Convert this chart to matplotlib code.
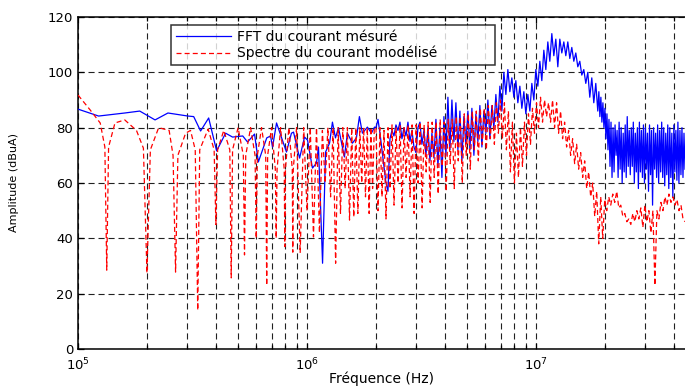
import numpy as np
import matplotlib
matplotlib.use("Agg")
import matplotlib.pyplot as plt
from matplotlib.ticker import NullFormatter, LogLocator

# ---------------- data ----------------
# Measured current FFT, sparse low-frequency part (Hz, dBuA)
blue_lf_freq = [1.00e5, 1.23e5, 1.60e5, 1.86e5, 2.17e5, 2.47e5, 3.02e5, 3.20e5,
                3.43e5, 3.72e5, 4.03e5, 4.41e5, 4.73e5, 5.24e5, 5.50e5, 5.90e5,
                6.13e5, 6.67e5, 6.93e5, 7.07e5, 7.36e5, 8.13e5, 8.55e5, 8.73e5,
                9.28e5, 9.75e5, 1.005e6, 1.056e6, 1.10e6, 1.122e6, 1.169e6, 1.205e6,
                1.254e6, 1.291e6, 1.331e6, 1.372e6, 1.456e6, 1.501e6, 1.578e6,
                1.643e6, 1.693e6, 1.745e6, 1.835e6, 1.91e6, 1.97e6]
blue_lf_val = [86.7, 84.2, 85.3, 86.0, 82.8, 85.3, 84.2, 84.0,
               78.8, 83.5, 71.6, 78.0, 76.6, 77.0, 74.8, 77.7,
               67.6, 76.3, 77.0, 73.0, 81.7, 71.2, 78.0, 78.4,
               69.0, 76.6, 75.5, 65.4, 67.2, 73.0, 31.0, 71.2,
               74.4, 82.0, 76.3, 80.0, 69.4, 78.0, 74.4,
               76.3, 84.0, 78.0, 80.2, 78.0, 80.2]

# Measured current FFT, dense part 2 MHz .. 18.6 MHz (log-spaced samples)
blue_mf_val = [80, 83, 78, 72, 66, 60, 57, 76, 79, 77,
               81, 79, 82, 76, 80, 77, 82, 75, 79, 73,
               71, 80, 82, 74, 79, 70, 80, 68, 78, 69,
               83, 66, 80, 62, 84, 70, 91, 72, 90, 75,
               89, 72, 86, 68, 84, 74, 86, 72, 87, 70,
               85, 75, 88, 73, 86, 78, 90, 76, 88, 80,
               92, 82, 95, 86, 100, 92, 101, 93, 98, 91,
               97, 89, 95, 87, 93, 85, 92, 86, 96, 90,
               101, 95, 104, 97, 108, 101, 111, 104, 114, 106,
               112, 102, 112, 107, 111, 106, 111, 105, 109, 104,
               107, 102, 104, 99, 101, 96, 100, 91, 98, 89,
               96, 86]

# Measured current FFT, very dense part 18.8 MHz .. right edge
blue_hf_val = [93, 84, 91, 82, 89, 80, 87, 76, 85, 72,
               83, 66, 82, 62, 80, 64, 81, 70, 79, 62,
               82, 65, 80, 60, 78, 64, 81, 62, 84, 66,
               79, 63, 80, 66, 82, 60, 78, 64, 80, 58,
               82, 64, 79, 62, 81, 60, 80, 65, 78, 57,
               81, 63, 79, 52, 80, 65, 78, 62, 81, 60,
               79, 64, 82, 62, 80, 59, 78, 63, 81, 58,
               80, 62, 78, 55, 81, 64, 79, 61, 82, 60,
               79, 63, 80, 62, 78, 65]

# Modelled current spectrum, low-frequency part with its notches
red_lf_freq = [1.00e5, 1.13e5, 1.25e5, 1.31e5, 1.335e5, 1.36e5, 1.45e5, 1.60e5,
               1.80e5, 1.93e5, 2.00e5, 2.07e5, 2.25e5, 2.50e5, 2.60e5, 2.667e5,
               2.73e5, 2.95e5, 3.10e5, 3.25e5, 3.333e5, 3.40e5, 3.70e5, 3.93e5,
               4.00e5, 4.07e5, 4.33e5, 4.60e5, 4.667e5, 4.73e5, 5.00e5, 5.27e5,
               5.333e5, 5.40e5, 5.67e5, 5.93e5, 6.00e5, 6.07e5, 6.33e5, 6.60e5,
               6.667e5, 6.73e5, 7.00e5, 7.27e5, 7.333e5, 7.40e5, 7.67e5, 7.95e5,
               8.00e5, 8.05e5, 8.33e5, 8.62e5, 8.667e5, 8.71e5, 9.00e5, 9.333e5,
               9.67e5, 1.00e6, 1.033e6, 1.067e6, 1.10e6, 1.133e6, 1.167e6, 1.20e6,
               1.233e6, 1.267e6, 1.30e6, 1.333e6, 1.367e6, 1.40e6, 1.433e6, 1.467e6,
               1.50e6, 1.533e6, 1.567e6, 1.60e6, 1.633e6, 1.667e6, 1.70e6, 1.733e6,
               1.767e6, 1.80e6, 1.833e6, 1.867e6, 1.90e6, 1.933e6, 1.967e6]
red_lf_val = [91.8, 86.4, 81.7, 73.0, 28.5, 73.0, 81.7, 82.8,
              79.0, 72.6, 27.5, 72.0, 80.0, 79.0, 70.0, 27.8,
              70.0, 78.0, 79.0, 72.0, 14.0, 72.0, 79.5, 72.0,
              45.0, 72.0, 79.0, 72.0, 25.7, 72.0, 80.0, 70.0,
              34.0, 70.0, 80.0, 70.0, 40.0, 70.0, 80.0, 70.0,
              23.0, 70.0, 80.0, 65.0, 40.0, 65.0, 80.0, 65.0,
              37.0, 65.0, 80.0, 65.0, 35.0, 65.0, 80.0, 34.7,
              80.0, 50.0, 80.0, 40.5, 80.0, 42.0, 79.0, 60.0,
              80.0, 55.0, 80.0, 31.0, 80.0, 49.0, 80.0, 58.0,
              80.0, 46.6, 80.0, 47.7, 80.0, 49.0, 80.0, 60.0,
              80.0, 55.0, 80.0, 49.0, 80.0, 58.0, 80.0]

# Modelled current spectrum, dense part from 2 MHz to the right edge
red_hf_val = [80, 50, 80, 55, 79, 47, 80, 58, 81, 52,
              80, 60, 81, 51, 80, 62, 81, 55, 81, 49,
              81, 60, 82, 51, 81, 64, 82, 53, 82, 62,
              82, 56, 83, 66, 82, 57, 83, 67, 83, 58,
              84, 68, 84, 60, 85, 70, 85, 65, 86, 72,
              86, 68, 87, 74, 87, 72, 88, 76, 88, 74,
              89, 78, 90, 76, 89, 72, 86, 64, 82, 60,
              78, 62, 80, 66, 82, 70, 85, 74, 87, 78,
              89, 80, 91, 82, 90, 84, 89, 82, 90, 80,
              89, 78, 86, 76, 82, 73, 79, 70, 76, 67,
              74, 65, 71, 62, 68, 58, 64, 55, 60, 48,
              57, 38, 55, 40, 54, 50, 55, 52, 56, 53,
              57, 51, 52, 48, 49, 46, 47, 45, 49, 46,
              50, 47, 51, 44, 52, 46, 50, 42, 50, 23,
              50, 47, 53, 50, 55, 52, 56, 53, 55, 52,
              54, 50, 52, 47, 46]

mf_start, mf_stop = 2.0e6, 1.86e7
hf_start, hf_stop = 1.88e7, 4.47e7
x_min, x_max = 1.0e5, 4.47e7
y_ticks = [0, 20, 40, 60, 80, 100, 120]
labels = ["FFT du courant mésuré", "Spectre du courant modélisé"]

# ---------------- figure ----------------
plt.rcParams['font.family'] = ['DejaVu Sans']
fig = plt.figure(figsize=(6.85, 3.87), dpi=100)
ax = fig.add_axes([78 / 685, 38 / 387, 607 / 685, 332 / 387])

blue_f = np.concatenate([blue_lf_freq,
                         np.geomspace(mf_start, mf_stop, len(blue_mf_val)),
                         np.geomspace(hf_start, hf_stop, len(blue_hf_val))])
blue_v = np.concatenate([blue_lf_val, blue_mf_val, blue_hf_val])
red_f = np.concatenate([red_lf_freq, np.geomspace(mf_start, x_max, len(red_hf_val))])
red_v = np.concatenate([red_lf_val, red_hf_val])

ax.plot(blue_f, blue_v, color='#0000ff', lw=0.9, label=labels[0], zorder=3)
ax.plot(red_f, red_v, color='#ff0000', lw=0.9, linestyle=(0, (4, 2.5)),
        label=labels[1], zorder=4)

ax.set_xscale('log')
ax.set_xlim(x_min, x_max)
ax.set_ylim(0, 120)
ax.set_yticks(y_ticks)
ax.xaxis.set_minor_locator(LogLocator(base=10, subs=np.arange(2, 10)))
ax.xaxis.set_minor_formatter(NullFormatter())

ax.set_axisbelow(True)
grid_kw = dict(color='#222222', lw=0.8, linestyle=(0, (5.5, 3.5)))
ax.grid(True, which='major', axis='both', **grid_kw)
ax.grid(True, which='minor', axis='x', **grid_kw)

ax.tick_params(which='both', direction='in', top=True, right=False, labelsize=9.5,
               width=0.9)
ax.tick_params(which='major', length=4)
ax.tick_params(which='minor', length=3)
ax.tick_params(axis='x', pad=5.5)
for s in ['left', 'bottom', 'top']:
    ax.spines[s].set_linewidth(1.1)
ax.spines['right'].set_visible(False)

ax.set_xlabel('Fréquence (Hz)', fontsize=10, labelpad=-1)
ax.set_ylabel('Amplitude (dBuA)', fontsize=8)
ax.yaxis.set_label_coords(-0.098, 0.5)

leg = ax.legend(loc='upper left', bbox_to_anchor=(0.153, 0.976, 0.534, 0.0),
                mode='expand', fontsize=10, frameon=True, fancybox=False,
                edgecolor='black', handlelength=4.0, handletextpad=0.4,
                labelspacing=0.15, borderpad=0.35, borderaxespad=0.0)
leg.get_frame().set_linewidth(1.1)

fig.savefig('out.png', dpi=100)
